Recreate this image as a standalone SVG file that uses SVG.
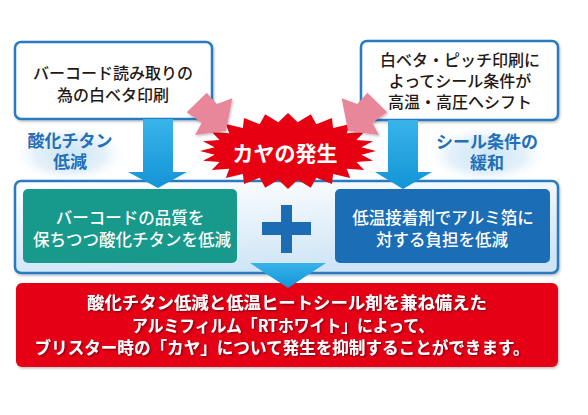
<svg xmlns="http://www.w3.org/2000/svg" width="588" height="415" viewBox="0 0 588 415">
<defs>
<style>
.jp{font-family:"Noto Sans CJK JP","Noto Sans CJK SC",sans-serif;}
.dark{fill:#231815;font-size:16px;font-weight:500;text-anchor:middle;}
.lbl{fill:#2270b9;font-size:17px;font-weight:700;text-anchor:middle;}
.wt{fill:#ffffff;font-size:16.5px;font-weight:500;text-anchor:middle;}
.res{fill:#ffffff;font-size:17px;font-weight:700;text-anchor:middle;}
.topbox{fill:#ffffff;stroke:#2a7ac2;stroke-width:2.5;}
.barrow{fill:url(#gBlue);}
.parrow{fill:#e9879a;}
</style>
<linearGradient id="gBlue" x1="0" y1="0" x2="0" y2="1">
<stop offset="0" stop-color="#38b4ea"/>
<stop offset="1" stop-color="#1394d6"/>
</linearGradient>
<linearGradient id="gCont" x1="0" y1="0" x2="0.3" y2="1">
<stop offset="0" stop-color="#ffffff"/>
<stop offset="1" stop-color="#cfe5f6"/>
</linearGradient>
<radialGradient id="gGlow" cx="0.5" cy="0.5" r="0.5">
<stop offset="0" stop-color="#cfe6f6"/>
<stop offset="0.6" stop-color="#e3f0fa"/>
<stop offset="1" stop-color="#ffffff" stop-opacity="0"/>
</radialGradient>
<filter id="sh" x="-10%" y="-10%" width="120%" height="130%">
<feDropShadow dx="1" dy="1.5" stdDeviation="1" flood-color="#000" flood-opacity="0.25"/>
</filter>
<filter id="tsh" x="-5%" y="-20%" width="110%" height="150%">
<feDropShadow dx="1" dy="1" stdDeviation="0.8" flood-color="#5a0008" flood-opacity="0.85"/>
</filter>
</defs>
<rect width="588" height="415" fill="#ffffff"/>

<g id="label-left">
<ellipse cx="70" cy="154" rx="58" ry="30" fill="url(#gGlow)"/>
<text class="jp lbl"><tspan x="70" y="147">酸化チタン</tspan><tspan x="70" y="168">低減</tspan></text>
</g>
<g id="label-right">
<ellipse cx="487" cy="155" rx="62" ry="30" fill="url(#gGlow)"/>
<text class="jp lbl"><tspan x="487" y="148">シール条件の</tspan><tspan x="487" y="169">緩和</tspan></text>
</g>

<g id="container">
<rect x="15" y="181" width="543" height="92" rx="6" fill="url(#gCont)" stroke="#2a7ac2" stroke-width="2.5" filter="url(#sh)"/>
</g>

<g id="box-top-left">
<rect class="topbox" x="15" y="42" width="197" height="77" rx="6" filter="url(#sh)"/>
<text class="jp dark"><tspan x="113" y="79">バーコード読み取りの</tspan><tspan x="113" y="101">為の白ベタ印刷</tspan></text>
</g>
<g id="box-top-right">
<rect class="topbox" x="361" y="41" width="197" height="79" rx="6" filter="url(#sh)"/>
<text class="jp dark" font-size="15.5"><tspan x="460" y="66">白ベタ・ピッチ印刷に</tspan><tspan x="460" y="87">よってシール条件が</tspan><tspan x="460" y="108">高温・高圧へシフト</tspan></text>
</g>

<g id="box-green">
<rect x="23" y="189" width="214" height="74" rx="5" fill="#17998b"/>
<text class="jp wt"><tspan x="130" y="224">バーコードの品質を</tspan><tspan x="132" y="246">保ちつつ酸化チタンを低減</tspan></text>
</g>
<g id="box-blue">
<rect x="335" y="189" width="215" height="74" rx="5" fill="#1b6db5"/>
<text class="jp wt"><tspan x="443" y="224">低温接着剤でアルミ箔に</tspan><tspan x="442" y="246">対する負担を低減</tspan></text>
</g>
<g id="plus" fill="#1c6cb4">
<rect x="281" y="205" width="11" height="48"/>
<rect x="262" y="222" width="49" height="13"/>
</g>

<g id="result">
<rect x="16" y="283" width="542" height="84" rx="6" fill="#e50012" filter="url(#sh)"/>
<text class="jp res" filter="url(#tsh)"><tspan x="287" y="309" textLength="400" lengthAdjust="spacingAndGlyphs">酸化チタン低減と低温ヒートシール剤を兼ね備えた</tspan><tspan x="283" y="332" textLength="302" lengthAdjust="spacingAndGlyphs">アルミフィルム「RTホワイト」によって、</tspan><tspan x="282" y="354" textLength="495" lengthAdjust="spacingAndGlyphs">ブリスター時の「カヤ」について発生を抑制することができます。</tspan></text>
</g>

<g id="burst">
<polygon fill="#e60012" points="376,151 361.4,154.8 373,160.8 356.4,162.1 364.2,170 346.7,168.7 350.2,177.9 333.1,174 332,183.9 316.3,177.8 310.8,187.7 297.7,179.8 288,189 278.3,179.8 265.2,187.7 259.7,177.8 244,183.9 242.9,174 225.8,177.9 229.3,168.7 211.8,170 219.6,162.1 203,160.8 214.6,154.8 200,151 214.6,147.2 203,141.2 219.6,139.9 211.8,132 229.3,133.3 225.8,124.1 242.9,128 244,118.1 259.7,124.2 265.2,114.3 278.3,122.2 288,113 297.7,122.2 310.8,114.3 316.3,124.2 332,118.1 333.1,128 350.2,124.1 346.7,133.3 364.2,132 356.4,139.9 373,141.2 361.4,147.2"/>
<text class="jp" x="285" y="161" font-size="21" font-weight="700" fill="#ffffff" text-anchor="middle">カヤの発生</text>
</g>

<g id="connectors">
<polygon class="barrow" points="143,119 173,119 173,172 187,172 158,188 128,172 143,172"/>
<polygon class="barrow" points="388,120 418,120 418,172 432,172 403,189 375,172 388,172"/>
<polygon class="barrow" points="250,263 326,263 288,288"/>
<polygon class="parrow" filter="url(#sh)" points="206.7,92.7 216.7,104 232.3,98.3 226,131 195,135 201.7,122.7 186.7,112.3"/>
<polygon class="parrow" filter="url(#sh)" points="367.3,92.7 357.3,104 341.7,98.3 348,131 379,135 372.3,122.7 387.3,112.3"/>
</g>
</svg>
